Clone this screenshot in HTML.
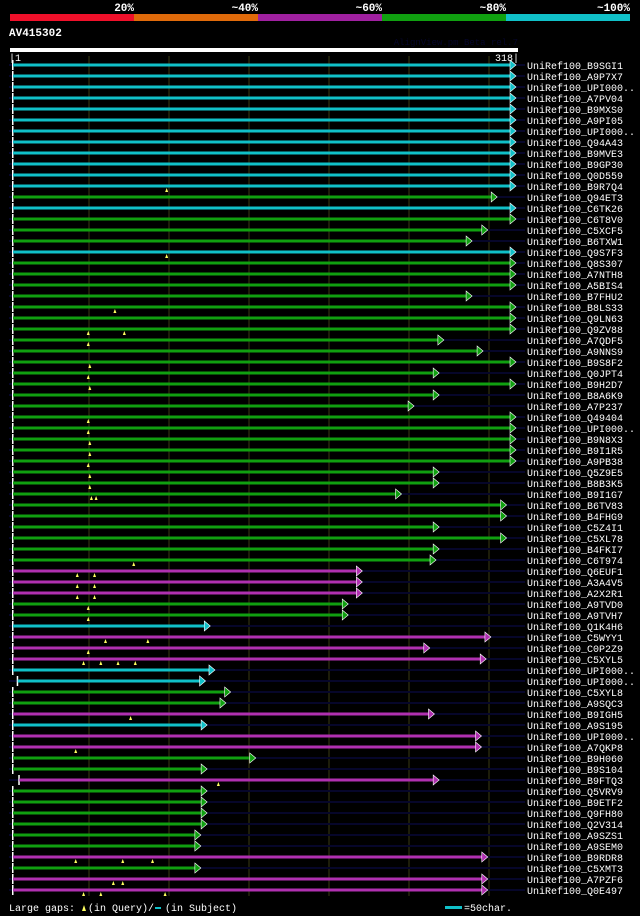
<!DOCTYPE html>
<html><head><meta charset="utf-8"><style>
html,body{margin:0;padding:0;background:#000;}
svg{display:block;font-family:"Liberation Mono",monospace;}
</style></head><body>
<svg id="c" width="640" height="916" xmlns="http://www.w3.org/2000/svg">
<rect x="0" y="0" width="640" height="916" fill="#000"/>
<g>
<rect x="10" y="14" width="124" height="7" fill="#f0102a"/>
<rect x="134" y="14" width="124" height="7" fill="#e06a0a"/>
<rect x="258" y="14" width="124" height="7" fill="#a020a0"/>
<rect x="382" y="14" width="124" height="7" fill="#10a010"/>
<rect x="506" y="14" width="124" height="7" fill="#10c0c8"/>
<g fill="#fff" font-size="11" font-weight="bold" text-anchor="end">
<text x="134" y="11">20%</text>
<text x="258" y="11">~40%</text>
<text x="382" y="11">~60%</text>
<text x="506" y="11">~80%</text>
<text x="630" y="11">~100%</text>
</g></g>
<text x="9" y="36" fill="#fff" font-size="11" font-weight="bold">AV415302</text>
<text x="518" y="45" fill="#05052a" font-size="9" text-anchor="end">AlignView.pm Beta rel.7</text>
<rect x="10" y="48" width="508" height="4" fill="#fff"/>
<text x="9" y="61" fill="#fff" font-size="10">|1</text>
<text x="519" y="61" fill="#fff" font-size="10" text-anchor="end">318|</text>
<g id="grid"></g>
<g id="rows"></g>
<g>
<text x="9" y="911" fill="#fff" font-size="10">Large gaps:</text>
<polygon points="82,911 86,911 84,905" fill="#ffff60"/>
<text x="88" y="911" fill="#fff" font-size="10">(in Query)/</text>
<rect x="155" y="907" width="6" height="2" fill="#10c0c8"/>
<text x="165" y="911" fill="#fff" font-size="10">(in Subject)</text>
<rect x="445" y="906" width="17" height="3" fill="#10c0c8"/>
<text x="464" y="911" fill="#fff" font-size="10">=50char.</text>
</g>
</svg>
<script>
const names=["B9SGI1","A9P7X7","UPI000..","A7PV04","B9MXS0","A9PI05","UPI000..","Q94A43","B9MVE3","B9GP30","Q0D559","B9R7Q4","Q94ET3","C6TK26","C6T8V0","C5XCF5","B6TXW1","Q9S7F3","Q8S307","A7NTH8","A5BIS4","B7FHU2","B8LS33","Q9LN63","Q9ZV88","A7QDF5","A9NNS9","B9S8F2","Q0JPT4","B9H2D7","B8A6K9","A7P237","Q49404","UPI000..","B9N8X3","B9I1R5","A9PB38","Q5Z9E5","B8B3K5","B9I1G7","B6TV83","B4FHG9","C5Z4I1","C5XL78","B4FKI7","C6T974","Q6EUF1","A3A4V5","A2X2R1","A9TVD0","A9TVH7","Q1K4H6","C5WYY1","C0P2Z9","C5XYL5","UPI000..","UPI000..","C5XYL8","A9SQC3","B9IGH5","A9S195","UPI000..","A7QKP8","B9H060","B9S104","B9FTQ3","Q5VRV9","B9ETF2","Q9FH80","Q2V314","A9SZS1","A9SEM0","B9RDR8","C5XMT3","A7PZF6","Q0E497"];
const identity=[5,5,5,5,5,5,5,5,5,5,5,5,4,5,4,4,4,5,4,4,4,4,4,4,4,4,4,4,4,4,4,4,4,4,4,4,4,4,4,4,4,4,4,4,4,4,3,3,3,4,4,5,3,3,3,5,5,4,4,3,5,3,3,4,4,3,4,4,4,4,4,4,3,4,3,3];
const starts=[1,1,1,1,1,1,1,1,1,1,1,1,1,1,1,1,1,1,1,1,1,1,1,1,1,1,1,1,1,1,1,1,1,1,1,1,1,1,1,1,1,1,1,1,1,1,1,1,1,1,1,1,1,1,1,1,4,1,1,1,1,1,1,1,1,5,1,1,1,1,1,1,1,1,1,1];
const ends=[318,318,318,318,318,318,318,318,318,318,318,318,306,318,318,300,290,318,318,318,318,290,318,318,318,272,297,318,269,318,269,253,318,318,318,318,318,269,269,245,312,312,269,312,269,267,220,220,220,211,211,123,302,263,299,126,120,136,133,266,121,296,296,152,121,269,121,121,121,121,117,117,300,117,300,300];
const gapRows=[11,17,22,24,24,25,27,28,29,32,33,34,35,36,37,38,39,39,45,46,46,47,47,48,48,49,50,52,52,53,54,54,54,54,59,62,65,72,72,72,74,74,75,75,75];
const gapPos=[99,99,66,49,72,49,50,49,50,49,49,50,50,49,50,50,51,54,78,42,53,42,53,42,53,49,49,60,87,49,46,57,68,79,76,41,132,41,71,90,65,71,46,57,98];
const colors={3:"#b030b0",4:"#10a010",5:"#10c0c8"};
const X0=13,X1=510,Y0=65,DY=11;
function xs(p){return X0+(p-1)*(X1-X0)/317;}
function ys(i){return Y0+i*DY;}
const NS="http://www.w3.org/2000/svg";
const grid=document.getElementById('grid');
for(let k=1;k<=6;k++){
  const l=document.createElementNS(NS,'line');
  const gx=9+k*80;
  l.setAttribute('x1',gx);l.setAttribute('x2',gx);l.setAttribute('y1',56);l.setAttribute('y2',896);
  l.setAttribute('stroke','#3a3a14');l.setAttribute('stroke-width','1');
  
  
  grid.appendChild(l);
}
const rows=document.getElementById('rows');
for(let i=0;i<names.length;i++){
  const g=document.createElementNS(NS,'g');
  
  
  const y=ys(i);
  const bg=document.createElementNS(NS,'rect');
  bg.setAttribute('x',9);bg.setAttribute('y',y-1);bg.setAttribute('width',516);bg.setAttribute('height',2);
  bg.setAttribute('fill','#06062a');
  
  
  g.appendChild(bg);
  const c=colors[identity[i]];
  const x1=xs(starts[i]),x2=xs(ends[i]);
  const t=document.createElementNS(NS,'rect');
  t.setAttribute('x',x1-1);t.setAttribute('y',y-5);t.setAttribute('width',1.5);t.setAttribute('height',10);t.setAttribute('fill','#fff');
  
  
  g.appendChild(t);
  const bar=document.createElementNS(NS,'rect');
  bar.setAttribute('x',x1);bar.setAttribute('y',y-1.5);bar.setAttribute('width',x2-x1);bar.setAttribute('height',3);bar.setAttribute('fill',c);
  
  
  g.appendChild(bar);
  const ar=document.createElementNS(NS,'polygon');
  ar.setAttribute('points',`${x2},${y-5} ${x2+6},${y} ${x2},${y+5}`);
  ar.setAttribute('fill',c);ar.setAttribute('stroke','#fff');ar.setAttribute('stroke-width','0.6');
  
  
  g.appendChild(ar);
  const tx=document.createElementNS(NS,'text');
  tx.setAttribute('x',527);tx.setAttribute('y',y+4);tx.setAttribute('fill','#fff');tx.setAttribute('font-size','10');
  tx.textContent='UniRef100_'+names[i];
  
  
  g.appendChild(tx);
  rows.appendChild(g);
}
for(let j=0;j<gapRows.length;j++){
  const y=ys(gapRows[j]),x=xs(gapPos[j]);
  const m=document.createElementNS(NS,'polygon');
  m.setAttribute('points',`${x-1.5},${y+6} ${x+1.5},${y+6} ${x},${y+2}`);
  m.setAttribute('fill','#ffff60');
  
  
  rows.appendChild(m);
}
</script>
</body></html>
